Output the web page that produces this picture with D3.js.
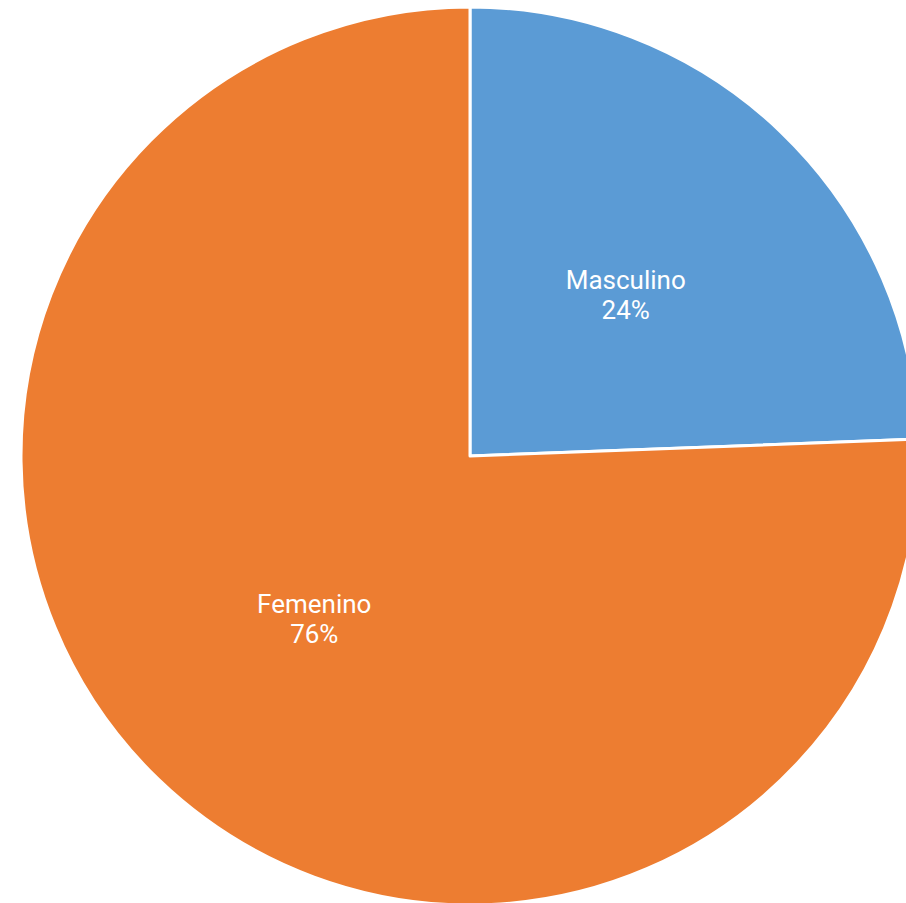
<!DOCTYPE html>
<html>
<head>
<meta charset="utf-8">
<script src="https://cdn.jsdelivr.net/npm/d3@7"></script>
<style>
  html, body { margin: 0; padding: 0; background: #fff; }
  svg { display: block; }
</style>
</head>
<body>
<svg id="chart" width="906" height="903"></svg>
<script>
const categories = ["Masculino", "Femenino"];
const values = [24.4, 75.6];
const colors = ["#5B9BD5", "#ED7D31"];

const width = 906, height = 903;
const cx = 470, cy = 456, radius = 449;

const svg = d3.select("#chart");
const g = svg.append("g").attr("transform", `translate(${cx},${cy})`);

const data = categories.map((c, i) => ({ name: c, value: values[i], color: colors[i] }));
const total = d3.sum(values);

const pie = d3.pie().value(d => d.value).sort(null);
const arc = d3.arc().innerRadius(0).outerRadius(radius);
const labelArc = d3.arc().innerRadius(radius * 0.5).outerRadius(radius * 0.5);

const arcs = pie(data);

g.selectAll("path.slice")
  .data(arcs)
  .enter().append("path")
  .attr("class", "slice")
  .attr("d", arc)
  .attr("fill", d => d.data.color)
  .attr("stroke", "#fff")
  .attr("stroke-width", 3)
  .attr("stroke-linejoin", "round");

const labels = g.selectAll("text.label")
  .data(arcs)
  .enter().append("text")
  .attr("class", "label")
  .attr("transform", d => `translate(${labelArc.centroid(d)})`)
  .attr("text-anchor", "middle")
  .attr("fill", "#fff")
  .style("font-family", "Roboto, 'Noto Sans', sans-serif")
  .style("font-size", "26px");

labels.append("tspan")
  .attr("x", 0)
  .attr("y", -5)
  .text(d => d.data.name);

labels.append("tspan")
  .attr("x", 0)
  .attr("y", 25)
  .text(d => Math.round(d.data.value / total * 100) + "%");
</script>
</body>
</html>
